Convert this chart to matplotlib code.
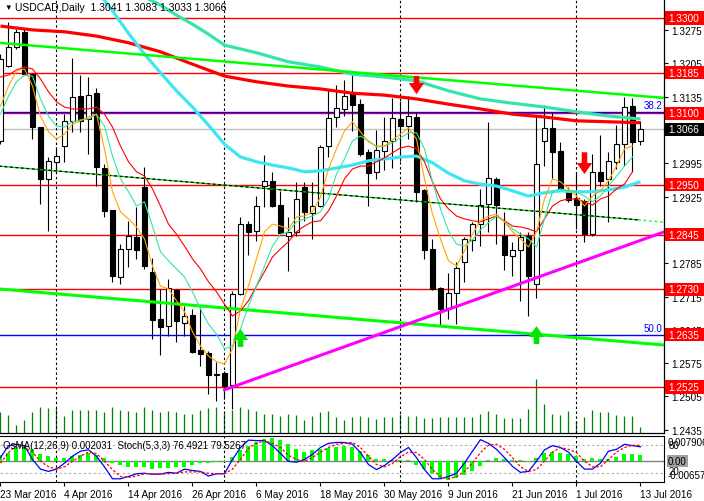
import numpy as np
import pandas as pd
import matplotlib
matplotlib.use("Agg")
import matplotlib.pyplot as plt
import matplotlib.transforms as mtransforms
from matplotlib.patches import Rectangle

plt.rcParams['font.family'] = ['Liberation Sans', 'DejaVu Sans']

W, H = 704, 502

# daily bars, 23 Mar 2016 .. 13 Jul 2016
dates = pd.bdate_range('2016-03-23', '2016-07-13')
bars = np.arange(len(dates))

opens = [1.3042, 1.3199, 1.3239, 1.3271, 1.3182, 1.3071, 1.2962, 1.2998, 1.3031, 1.3084,
         1.3136, 1.3088, 1.3143, 1.2985, 1.2897, 1.2756, 1.2815, 1.2840, 1.2945, 1.2767,
         1.2668, 1.2653, 1.2729, 1.2660, 1.2676, 1.2603, 1.2597, 1.2552, 1.2555, 1.2529,
         1.2720, 1.2867, 1.2853, 1.2947, 1.2958, 1.2907, 1.2842, 1.2851, 1.2945, 1.2891,
         1.2905, 1.3031, 1.3092, 1.3109, 1.3140, 1.3119, 1.3019, 1.2977, 1.3021, 1.3042,
         1.3088, 1.3073, 1.3092, 1.2939, 1.2815, 1.2733, 1.2691, 1.2722, 1.2788, 1.2834,
         1.2867, 1.2909, 1.2962, 1.2842, 1.2800, 1.2813, 1.2842, 1.2741, 1.3042, 1.3069,
         1.3021, 1.2935, 1.2922, 1.2916, 1.2846, 1.2977, 1.2962, 1.2998, 1.3035, 1.3115,
         1.3041]
highs = [1.3224, 1.3292, 1.3277, 1.3277, 1.3185, 1.3071, 1.3008, 1.3029, 1.3098, 1.3216,
         1.3180, 1.3176, 1.3153, 1.2993, 1.2897, 1.2825, 1.2874, 1.2903, 1.2987, 1.2796,
         1.2731, 1.2752, 1.2731, 1.2695, 1.2689, 1.2693, 1.2601, 1.2578, 1.2559, 1.2727,
         1.2882, 1.2874, 1.2926, 1.3012, 1.2977, 1.2937, 1.2882, 1.2956, 1.2956, 1.2956,
         1.3033, 1.3149, 1.3159, 1.3170, 1.3180, 1.3130, 1.3025, 1.3065, 1.3092, 1.3132,
         1.3126, 1.3136, 1.3103, 1.2941, 1.2836, 1.2735, 1.2765, 1.2788, 1.2840, 1.2872,
         1.2941, 1.3082, 1.2967, 1.2893, 1.2830, 1.2851, 1.2851, 1.3092, 1.3117, 1.3103,
         1.3040, 1.2945, 1.2977, 1.2920, 1.3014, 1.3054, 1.3019, 1.3075, 1.3134, 1.3132,
         1.3083]
lows = [1.3035, 1.3197, 1.3235, 1.3180, 1.3046, 1.2909, 1.2853, 1.2977, 1.2998, 1.3061,
        1.3061, 1.3014, 1.2947, 1.2882, 1.2746, 1.2741, 1.2777, 1.2794, 1.2773, 1.2626,
        1.2592, 1.2632, 1.2620, 1.2632, 1.2596, 1.2569, 1.2510, 1.2496, 1.2500, 1.2479,
        1.2718, 1.2802, 1.2832, 1.2903, 1.2903, 1.2846, 1.2769, 1.2842, 1.2874, 1.2836,
        1.2903, 1.3008, 1.3071, 1.3094, 1.3063, 1.3010, 1.2905, 1.2962, 1.2981, 1.2985,
        1.3000, 1.3046, 1.2914, 1.2794, 1.2729, 1.2653, 1.2668, 1.2657, 1.2746, 1.2811,
        1.2821, 1.2851, 1.2825, 1.2771, 1.2758, 1.2706, 1.2674, 1.2712, 1.2989, 1.2962,
        1.2937, 1.2914, 1.2857, 1.2830, 1.2842, 1.2947, 1.2872, 1.2983, 1.2989, 1.2977,
        1.3033]
closes = [1.3214, 1.3239, 1.3271, 1.3182, 1.3071, 1.2962, 1.3000, 1.3010, 1.3084, 1.3134,
          1.3084, 1.3138, 1.2987, 1.2895, 1.2758, 1.2815, 1.2842, 1.2813, 1.2779, 1.2666,
          1.2651, 1.2733, 1.2664, 1.2674, 1.2599, 1.2594, 1.2550, 1.2550, 1.2527, 1.2720,
          1.2867, 1.2851, 1.2905, 1.2958, 1.2905, 1.2849, 1.2851, 1.2920, 1.2893, 1.2905,
          1.3029, 1.3090, 1.3111, 1.3136, 1.3117, 1.3014, 1.2975, 1.3023, 1.3042, 1.3090,
          1.3073, 1.3094, 1.2935, 1.2813, 1.2731, 1.2689, 1.2722, 1.2775, 1.2836, 1.2867,
          1.2907, 1.2964, 1.2907, 1.2802, 1.2813, 1.2840, 1.2758, 1.2993, 1.3069, 1.3019,
          1.2939, 1.2918, 1.2907, 1.2846, 1.2977, 1.2958, 1.3000, 1.3035, 1.3113, 1.3040,
          1.3066]
# tick volume, thousands
volumes = [105, 90, 40, 65, 105, 130, 125, 125, 85, 115,
           115, 115, 115, 105, 130, 115, 110, 105, 130, 115,
           105, 110, 105, 95, 95, 115, 125, 130, 100, 115,
           130, 120, 110, 95, 95, 85, 95, 90, 65, 85,
           105, 110, 80, 65, 80, 85, 80, 70, 80, 80,
           95, 85, 85, 75, 75, 80, 80, 80, 80, 80,
           95, 110, 95, 75, 75, 75, 120, 270, 145, 95,
           90, 110, 60, 80, 115, 105, 105, 90, 85, 85,
           30]

# moving averages
ma_slow_idx = [0, 4, 8, 12, 16, 20, 24, 28, 32, 36, 40, 44, 48, 52, 56, 60, 64, 68, 72, 76, 80]
ma_slow = [1.3283, 1.3275, 1.3271, 1.3262, 1.3248, 1.3229, 1.3203, 1.3178, 1.3166, 1.3157, 1.3151,
           1.3142, 1.3138, 1.3130, 1.3119, 1.3109, 1.3098, 1.3092, 1.3084, 1.3082, 1.3080]
ma_mid_idx = [14, 16, 18, 20, 22, 24, 26, 28, 32, 36, 40, 44, 48, 52, 56, 60, 64, 68, 72, 76, 80]
ma_mid = [1.3386, 1.3365, 1.3344, 1.3327, 1.3306, 1.3287, 1.3266, 1.3243, 1.3227, 1.3208, 1.3197,
          1.3182, 1.3176, 1.3168, 1.3147, 1.3130, 1.3121, 1.3113, 1.3103, 1.3094, 1.3088]
ma_fast_idx = [12, 14, 16, 18, 20, 22, 24, 26, 28, 30, 32, 34, 36, 38, 40, 42, 44, 46, 48, 50,
               52, 54, 56, 58, 60, 62, 64, 66, 68, 70, 72, 74, 76, 78, 80]
ma_fast = [1.3359, 1.3315, 1.3268, 1.3224, 1.3185, 1.3147, 1.3113, 1.3075, 1.3035, 1.3008,
           1.2998, 1.2991, 1.2985, 1.2977, 1.2979, 1.2985, 1.2991, 1.3000, 1.3004, 1.3008,
           1.3010, 1.2996, 1.2974, 1.2958, 1.2951, 1.2947, 1.2937, 1.2926, 1.2933, 1.2937,
           1.2935, 1.2935, 1.2939, 1.2945, 1.2956]

ema_red = [1.3176, 1.3180, 1.3191, 1.3197, 1.3193, 1.3172, 1.3145, 1.3124, 1.3113, 1.3109,
           1.3109, 1.3109, 1.3113, 1.3098, 1.3071, 1.3031, 1.2998, 1.2977, 1.2968, 1.2941,
           1.2905, 1.2867, 1.2846, 1.2821, 1.2794, 1.2773, 1.2746, 1.2725, 1.2699, 1.2674,
           1.2685, 1.2706, 1.2737, 1.2767, 1.2798, 1.2815, 1.2830, 1.2851, 1.2863, 1.2872,
           1.2874, 1.2895, 1.2926, 1.2962, 1.2983, 1.2989, 1.2989, 1.2998, 1.3006, 1.3017,
           1.3027, 1.3031, 1.3025, 1.2998, 1.2956, 1.2920, 1.2899, 1.2884, 1.2878, 1.2874,
           1.2872, 1.2878, 1.2884, 1.2874, 1.2863, 1.2861, 1.2857, 1.2851, 1.2878, 1.2905,
           1.2916, 1.2920, 1.2920, 1.2914, 1.2907, 1.2920, 1.2926, 1.2941, 1.2951, 1.2977]
ema_orange = [1.3115, 1.3157, 1.3189, 1.3193, 1.3157, 1.3094, 1.3061, 1.3046, 1.3056, 1.3077,
              1.3084, 1.3092, 1.3098, 1.3025, 1.2935, 1.2893, 1.2878, 1.2861, 1.2836, 1.2779,
              1.2737, 1.2731, 1.2706, 1.2683, 1.2641, 1.2611, 1.2590, 1.2578, 1.2573, 1.2605,
              1.2689, 1.2737, 1.2794, 1.2851, 1.2867, 1.2863, 1.2857, 1.2882, 1.2884, 1.2893,
              1.2924, 1.2983, 1.3025, 1.3063, 1.3082, 1.3061, 1.3040, 1.3031, 1.3031, 1.3044,
              1.3056, 1.3069, 1.3046, 1.2962, 1.2888, 1.2836, 1.2790, 1.2779, 1.2811, 1.2846,
              1.2874, 1.2884, 1.2888, 1.2872, 1.2851, 1.2836, 1.2819, 1.2851, 1.2920, 1.2962,
              1.2956, 1.2941, 1.2926, 1.2905, 1.2926, 1.2937, 1.2958, 1.2989, 1.3025, 1.3031]
ema_aqua = [1.3098, 1.3136, 1.3166, 1.3180, 1.3178, 1.3130, 1.3094, 1.3073, 1.3071, 1.3082,
            1.3086, 1.3088, 1.3098, 1.3073, 1.3010, 1.2962, 1.2935, 1.2905, 1.2914, 1.2863,
            1.2809, 1.2790, 1.2773, 1.2756, 1.2725, 1.2689, 1.2657, 1.2636, 1.2605, 1.2611,
            1.2647, 1.2695, 1.2737, 1.2779, 1.2821, 1.2846, 1.2851, 1.2872, 1.2878, 1.2884,
            1.2893, 1.2920, 1.2972, 1.3004, 1.3042, 1.3052, 1.3042, 1.3029, 1.3031, 1.3038,
            1.3048, 1.3059, 1.3059, 1.3025, 1.2956, 1.2899, 1.2853, 1.2825, 1.2821, 1.2834,
            1.2855, 1.2870, 1.2884, 1.2872, 1.2857, 1.2846, 1.2836, 1.2819, 1.2878, 1.2935,
            1.2941, 1.2937, 1.2935, 1.2926, 1.2914, 1.2926, 1.2947, 1.2968, 1.2989, 1.3008]

# oscillators
osma = [0.0019, 0.0026, 0.0044, 0.0049, 0.0039, 0.0022, 0.0015, 0.0011, 0.0011, 0.0015,
        0.0019, 0.0026, 0.0019, 0.0009, -0.0007, -0.0013, -0.0017, -0.0019, -0.0019, -0.0024,
        -0.0021, -0.0021, -0.0017, -0.0017, -0.0011, -0.0007, -0.0007, -0.0004, -0.0002, 0.0014,
        0.0036, 0.0049, 0.0060, 0.0071, 0.0074, 0.0065, 0.0055, 0.0039, 0.0030, 0.0035,
        0.0039, 0.0042, 0.0045, 0.0049, 0.0045, 0.0033, 0.0019, 0.0006, 0.0006, 0.0004,
        0.0003, 0.0003, -0.0011, -0.0024, -0.0040, -0.0052, -0.0058, -0.0052, -0.0044, -0.0031,
        -0.0015, 0.0003, 0.0009, 0.0006, 0.0002, 0.0003, -0.0003, 0.0009, 0.0024, 0.0030,
        0.0026, 0.0022, 0.0015, 0.0006, 0.0009, 0.0006, 0.0006, 0.0014, 0.0022, 0.0022,
        0.002031]
stoch_main = [53, 79, 82, 79, 49, 28, 23, 28, 41, 56,
              67, 70, 56, 33, 7, 7, 12, 18, 19, 17,
              17, 21, 19, 28, 25, 23, 13, 18, 18, 49,
              75, 91, 90, 90, 79, 62, 45, 43, 49, 60,
              75, 84, 86, 86, 82, 64, 38, 27, 36, 49,
              64, 75, 53, 27, 7, 7, 12, 19, 41, 67,
              92, 84, 71, 53, 34, 21, 23, 45, 70, 79,
              75, 65, 45, 28, 28, 41, 67, 71, 82, 79,
              76.49]
stoch_signal = [41, 64, 79, 75, 65, 45, 33, 28, 33, 45,
                56, 65, 62, 45, 27, 12, 10, 13, 18, 18,
                17, 18, 19, 22, 22, 22, 19, 18, 18, 28,
                49, 73, 84, 90, 84, 75, 58, 49, 45, 53,
                65, 75, 82, 84, 86, 75, 56, 38, 33, 40,
                55, 65, 64, 49, 27, 12, 7, 12, 23, 41,
                64, 80, 82, 71, 53, 33, 23, 27, 45, 65,
                75, 71, 64, 45, 33, 33, 49, 65, 75, 80,
                79.53]

# drawn objects
red_levels = [1.3300, 1.3185, 1.3100, 1.2950, 1.2845, 1.2730, 1.2525]
fib_levels = [1.3103, 1.2635]
fib_names = ['38.2', '50.0']
box_levels = [1.3300, 1.3185, 1.3100, 1.2950, 1.2845, 1.2730, 1.2635, 1.2525]
last_price = 1.3066
upper_green = ([-1, 83], [1.3249, 1.3132])
lower_green = ([-1, 83], [1.2732, 1.2613])
mid_trend = ([-1, 79.7, 83], [1.2990, 1.2876, 1.2871])
magenta_trend = ([28, 83], [1.2519, 1.2851])
down_arrows = [(52, 1.3178, 1.3140), (73, 1.3018, 1.2972)]
up_arrows = [(30, 1.2609, 1.2647), (67, 1.2615, 1.2653)]
separators = [7, 28, 50, 72]
price_ticks = [1.2435, 1.2505, 1.2575, 1.2645, 1.2715, 1.2785, 1.2855,
               1.2925, 1.2995, 1.3065, 1.3135, 1.3205, 1.3275]
hidden_ticks = [1.2855, 1.3065]  # covered by the level boxes
date_labels = ['23 Mar 2016', '4 Apr 2016', '14 Apr 2016', '26 Apr 2016', '6 May 2016',
               '18 May 2016', '30 May 2016', '9 Jun 2016', '21 Jun 2016', '1 Jul 2016', '13 Jul 2016']

xlim = (-0.06, 82.94)
ylim = (1.24283, 1.33399)

fig = plt.figure(figsize=(W / 100, H / 100), dpi=100)
fig.patch.set_facecolor('white')
main_rect = [0, 68 / H, 664 / W, 434 / H]
ind_rect = [0, 19 / H, 664 / W, 46 / H]

# volumes underneath
axv = fig.add_axes(main_rect, zorder=0)
axv.vlines(bars, 0, volumes, color='#008000', lw=0.9)
axv.set_xlim(*xlim)
axv.set_ylim(0, 2170)
axv.axis('off')

ax = fig.add_axes(main_rect, zorder=1)
ax.patch.set_visible(False)
ax.set_xlim(*xlim)
ax.set_ylim(*ylim)

for lv in red_levels:
    ax.axhline(lv, color='#FF0000', lw=1, zorder=2)
for lv in fib_levels:
    ax.axhline(lv, color='#0000FF', lw=1, zorder=2)
ax.axhline(last_price, color='#C0C0C0', lw=1, zorder=1.5)
for s in separators:
    ax.axvline(s, color='black', lw=0.8, dashes=(2.2, 2.2), zorder=1.5)

# candles
ax.vlines(bars, lows, highs, color='black', lw=0.8, zorder=3)
for i in bars:
    o, c = opens[i], closes[i]
    ax.add_patch(Rectangle((i - 0.28, min(o, c)), 0.56, max(abs(c - o), 0.00004),
                           facecolor='white' if c >= o else 'black',
                           edgecolor='black', lw=0.8, zorder=4))

# indicators
ax.plot(ma_slow_idx, ma_slow, color='#FF0000', lw=2.3, zorder=5, solid_capstyle='butt')
ax.plot(ma_mid_idx, ma_mid, color='#33E6A8', lw=2.3, zorder=5, solid_capstyle='butt')
ax.plot(ma_fast_idx, ma_fast, color='#3EE6F2', lw=2.3, zorder=5, solid_capstyle='butt')
ax.plot(bars[:80], ema_red, color='#FF0000', lw=0.8, zorder=6)
ax.plot(bars[:80], ema_aqua, color='#33E6A0', lw=0.8, zorder=6)
ax.plot(bars[:80], ema_orange, color='#FFA500', lw=0.8, zorder=6)

# trend lines
ax.plot(*upper_green, color='#00FF00', lw=1.8, zorder=5)
ax.plot(*lower_green, color='#00FF00', lw=2.2, zorder=5)
ax.plot(mid_trend[0][:2], mid_trend[1][:2], color='#00C800', lw=0.9, zorder=5)
ax.plot(mid_trend[0][:2], mid_trend[1][:2], color='black', lw=0.9, dashes=(2.2, 2.2), zorder=5)
ax.plot(mid_trend[0][1:], mid_trend[1][1:], color='#00FF00', lw=0.9, dashes=(2.2, 2.2), zorder=5)
ax.plot(*magenta_trend, color='#FF00FF', lw=2.2, zorder=5)

for b, top, tip in down_arrows:
    ax.annotate('', xy=(b, tip), xytext=(b, top), zorder=8,
                arrowprops=dict(arrowstyle='simple,head_width=1.1,head_length=0.8,tail_width=0.4',
                                color='#FF0000', lw=0, shrinkA=0, shrinkB=0))
for b, base, tip in up_arrows:
    ax.annotate('', xy=(b, tip), xytext=(b, base), zorder=8,
                arrowprops=dict(arrowstyle='simple,head_width=1.1,head_length=0.8,tail_width=0.4',
                                color='#00E600', lw=0, shrinkA=0, shrinkB=0))

trans = mtransforms.blended_transform_factory(ax.transAxes, ax.transData)
for lv, name in zip(fib_levels, fib_names):
    ax.text(1 - 2 / 664, lv + 0.0003, name, transform=trans, ha='right', va='bottom',
            color='#0000FF', fontsize=7, zorder=9)

# price scale
ax.yaxis.tick_right()
ax.set_yticks(price_ticks)
ax.set_yticklabels(['' if t in hidden_ticks else f'{t:.4f}' for t in price_ticks])
ax.tick_params(axis='y', direction='out', length=3, width=0.8, labelsize=7.2, pad=2)
ax.tick_params(axis='x', bottom=False, labelbottom=False)
for side in ['left', 'top']:
    ax.spines[side].set_visible(False)
for side in ['right', 'bottom']:
    ax.spines[side].set_linewidth(0.9)

box_h = 0.0028
for lv in box_levels:
    ax.add_patch(Rectangle((1 + 1 / 664, lv - box_h / 2), 40 / 664, box_h, transform=trans,
                           facecolor='#FF0000', edgecolor='none', clip_on=False, zorder=10))
    ax.text(1 + 4 / 664, lv, f'{lv:.4f}', transform=trans, va='center', ha='left',
            color='white', fontsize=7.2, zorder=11, clip_on=False)
ax.add_patch(Rectangle((1 + 1 / 664, last_price - box_h / 2), 40 / 664, box_h, transform=trans,
                       facecolor='black', edgecolor='none', clip_on=False, zorder=10))
ax.text(1 + 4 / 664, last_price, f'{last_price:.4f}', transform=trans, va='center', ha='left',
        color='white', fontsize=7.2, zorder=11, clip_on=False)

# OsMA + Stochastic window
ax2 = fig.add_axes(ind_rect)
ax2.set_xlim(*xlim)
ax2.set_ylim(-0.00657, 0.007906)
ax2.bar(bars, osma, width=0.5, color='#00FF00', zorder=2)
ax2.axhline(0, color='#808080', lw=1, zorder=1)
for s in separators:
    ax2.axvline(s, color='black', lw=0.8, dashes=(2.2, 2.2), zorder=1.5)
ax2.set_yticks([])
ax2.set_xticks(bars[::8])
ax2.set_xticklabels(date_labels, ha='left')
ax2.tick_params(axis='x', direction='out', length=3, width=0.8, labelsize=7.2, pad=2)
ax2.spines['left'].set_visible(False)

ax2s = ax2.twinx()
ax2s.set_xlim(*xlim)
ax2s.set_ylim(0, 100)
ax2s.axhline(80, color='#B4B4B4', lw=0.8, dashes=(2.2, 2.2))
ax2s.axhline(20, color='#B4B4B4', lw=0.8, dashes=(2.2, 2.2))
ax2s.plot(bars, stoch_main, color='#0000FF', lw=0.9, zorder=3)
ax2s.plot(bars, stoch_signal, color='#FF0000', lw=0.9, dashes=(2, 1.5), zorder=3)
ax2s.set_yticks([])
for sp in ax2s.spines.values():
    sp.set_visible(False)

# texts
fig.text(4 / W, 1 - 8 / H, '\u25bc', fontsize=5.5, va='center', ha='left')
fig.text(15 / W, 1 - 8 / H, 'USDCAD,Daily  1.3041 1.3083 1.3033 1.3066', fontsize=7.5,
         va='center', ha='left')
fig.text(3 / W, 1 - 446 / H, 'OsMA(12,26,9) 0.002031  Stoch(5,3,3) 76.4921 79.5267',
         fontsize=7, va='center', ha='left')
fig.text(669 / W, 1 - 446 / H, '80', fontsize=7, va='center', ha='left')
fig.text(668 / W, 1 - 443 / H, '0.007906', fontsize=7, va='center', ha='left')
fig.text(669 / W, 1 - 472 / H, '20', fontsize=7, va='center', ha='left')
fig.text(668 / W, 1 - 476 / H, '-0.00657', fontsize=7, va='center', ha='left')
fig.text(668 / W, 1 - 462 / H, '0.00', fontsize=7, va='center', ha='left',
         bbox=dict(boxstyle='square,pad=0.1', facecolor='#A0A0A0', edgecolor='none'))

fig.savefig('out.png', dpi=100)
